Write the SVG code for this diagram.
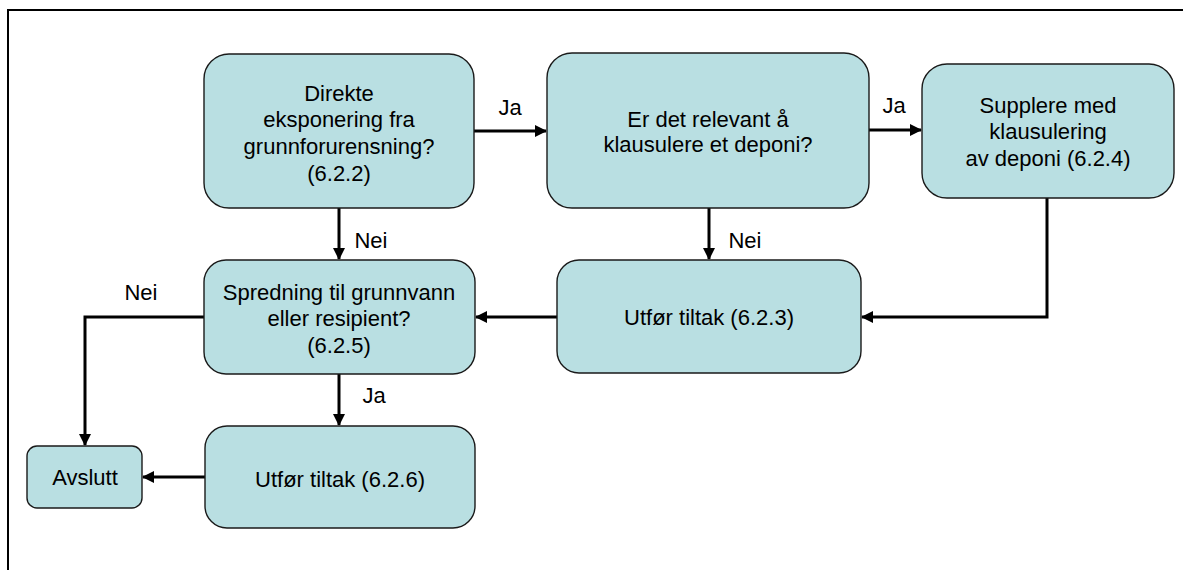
<svg xmlns="http://www.w3.org/2000/svg" width="1183" height="570" viewBox="0 0 1183 570">
<style>
.box{fill:#B9DFE2;stroke:#1a1a1a;stroke-width:1.4}
.t{font-family:"Liberation Sans",Arial,sans-serif;font-size:22px;fill:#000;text-anchor:middle}
.c{fill:none;stroke:#000;stroke-width:3}
</style>
<defs>
<marker id="ah" markerWidth="12" markerHeight="12" refX="11" refY="6" orient="auto" markerUnits="userSpaceOnUse">
<path d="M0,0 L12,6 L0,12 Z" fill="#000"/>
</marker>
</defs>
<rect width="1183" height="570" fill="#fff"/>
<path d="M8,570 V10 H1183" fill="none" stroke="#000" stroke-width="2"/>
<g id="connectors">
<path class="c" d="M474,131 H546" marker-end="url(#ah)"/>
<path class="c" d="M869,130 H921" marker-end="url(#ah)"/>
<path class="c" d="M339,208 V259" marker-end="url(#ah)"/>
<path class="c" d="M709,208 V259" marker-end="url(#ah)"/>
<path class="c" d="M1047,198 V317 H862" marker-end="url(#ah)"/>
<path class="c" d="M557,317 H476" marker-end="url(#ah)"/>
<path class="c" d="M204,317 H85 V445" marker-end="url(#ah)"/>
<path class="c" d="M339,374 V425" marker-end="url(#ah)"/>
<path class="c" d="M205,477 H143" marker-end="url(#ah)"/>
<text class="t" x="510" y="115">Ja</text>
<text class="t" x="894" y="113">Ja</text>
<text class="t" x="371" y="248">Nei</text>
<text class="t" x="745" y="248">Nei</text>
<text class="t" x="141" y="300">Nei</text>
<text class="t" x="374" y="403">Ja</text>
</g>
<g id="n1">
<rect class="box" x="204" y="54" width="270" height="154" rx="25"/>
<text class="t" x="339" y="101">Direkte</text>
<text class="t" x="339" y="127">eksponering fra</text>
<text class="t" x="339" y="154">grunnforurensning?</text>
<text class="t" x="339" y="181">(6.2.2)</text>
</g>
<g id="n2">
<rect class="box" x="547" y="53" width="322" height="155" rx="25"/>
<text class="t" x="708" y="127">Er det relevant å</text>
<text class="t" x="708" y="152">klausulere et deponi?</text>
</g>
<g id="n3">
<rect class="box" x="922" y="64" width="252" height="134" rx="25"/>
<text class="t" x="1048" y="113">Supplere med</text>
<text class="t" x="1048" y="139">klausulering</text>
<text class="t" x="1048" y="166">av deponi (6.2.4)</text>
</g>
<g id="n4">
<rect class="box" x="557" y="260" width="304" height="113" rx="22"/>
<text class="t" x="709" y="325">Utfør tiltak (6.2.3)</text>
</g>
<g id="n5">
<rect class="box" x="204" y="260" width="271" height="114" rx="22"/>
<text class="t" x="339" y="300">Spredning til grunnvann</text>
<text class="t" x="339" y="326">eller resipient?</text>
<text class="t" x="339" y="353">(6.2.5)</text>
</g>
<g id="n6">
<rect class="box" x="205" y="426" width="270" height="102" rx="22"/>
<text class="t" x="340" y="487">Utfør tiltak (6.2.6)</text>
</g>
<g id="n7">
<rect class="box" x="27" y="446" width="115" height="62" rx="10"/>
<text class="t" x="85" y="485">Avslutt</text>
</g>
</svg>
